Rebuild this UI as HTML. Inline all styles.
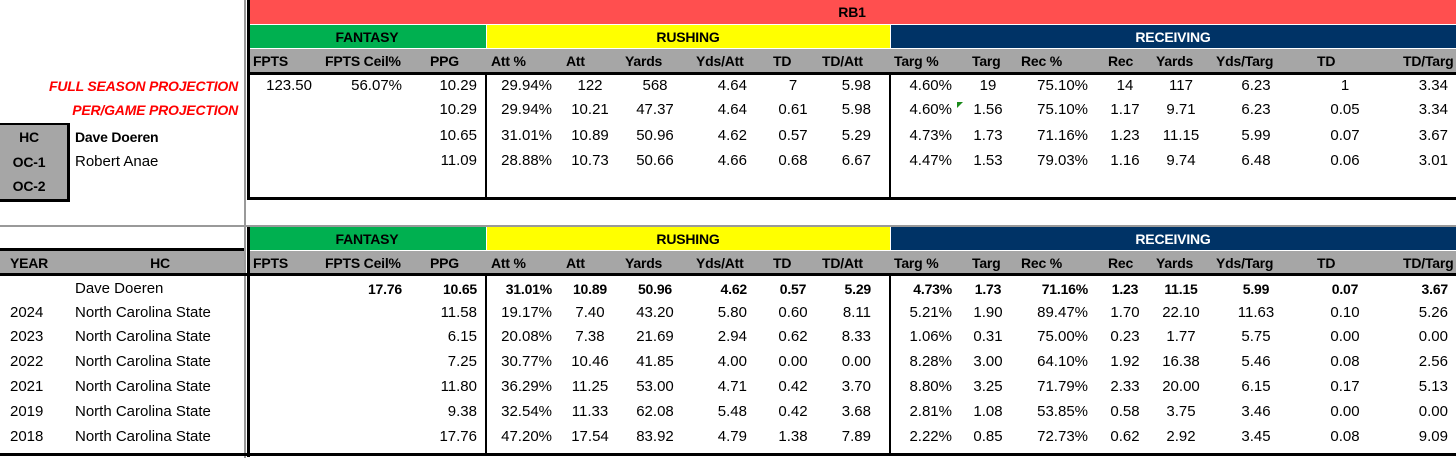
<!DOCTYPE html>
<html><head><meta charset="utf-8">
<style>
body{margin:0;width:1456px;height:458px;overflow:hidden;background:#fff;font-family:"Liberation Sans",sans-serif;font-size:15px;color:#000;position:relative}
.a{position:absolute;white-space:nowrap;line-height:18px}
.box{position:absolute}
.h{font-weight:bold;font-size:14px;letter-spacing:-0.2px}
</style></head><body>
<div id="root"></div>
<script>
const root=document.getElementById('root');
function box(name,x,y,w,h,bg){const d=document.createElement('div');d.className='box';


d.style.cssText=`left:${x}px;top:${y}px;width:${w}px;height:${h}px;background:${bg}`;root.appendChild(d);return d;}
function txt(name,s,x,y,align,cls,color){const d=document.createElement('div');d.className='a '+(cls||'');


d.textContent=s;d.style.top=(y-9)+'px';
if(align==='r'){d.style.right=(1456-x)+'px';}
else if(align==='c'){d.style.left=(x-100)+'px';d.style.width='200px';d.style.textAlign='center';}
else d.style.left=x+'px';
if(color)d.style.color=color;root.appendChild(d);return d;}

const colHeaders=["FPTS","FPTS Ceil%","PPG","Att %","Att","Yards","Yds/Att","TD","TD/Att","Targ %","Targ","Rec %","Rec","Yards","Yds/Targ","TD","TD/Targ"];
const headX=[253,325,430,491,566,625,696,773,822,894,972,1021,1108,1156,1216,1317,1403];
const valAlign=['r','r','r','r','c','c','r','c','r','r','c','r','c','c','c','c','r'];
const valX=[312,402,477,552,590,655,747,793,871,952,988,1088,1125,1181,1256,1345,1448];

const topRows=[
["123.50","56.07%","10.29","29.94%","122","568","4.64","7","5.98","4.60%","19","75.10%","14","117","6.23","1","3.34"],
["","","10.29","29.94%","10.21","47.37","4.64","0.61","5.98","4.60%","1.56","75.10%","1.17","9.71","6.23","0.05","3.34"],
["","","10.65","31.01%","10.89","50.96","4.62","0.57","5.29","4.73%","1.73","71.16%","1.23","11.15","5.99","0.07","3.67"],
["","","11.09","28.88%","10.73","50.66","4.66","0.68","6.67","4.47%","1.53","79.03%","1.16","9.74","6.48","0.06","3.01"]];
const years=["","2024","2023","2022","2021","2019","2018"];
const coaches=["Dave Doeren","North Carolina State","North Carolina State","North Carolina State","North Carolina State","North Carolina State","North Carolina State"];
const histRows=[
["","17.76","10.65","31.01%","10.89","50.96","4.62","0.57","5.29","4.73%","1.73","71.16%","1.23","11.15","5.99","0.07","3.67"],
["","","11.58","19.17%","7.40","43.20","5.80","0.60","8.11","5.21%","1.90","89.47%","1.70","22.10","11.63","0.10","5.26"],
["","","6.15","20.08%","7.38","21.69","2.94","0.62","8.33","1.06%","0.31","75.00%","0.23","1.77","5.75","0.00","0.00"],
["","","7.25","30.77%","10.46","41.85","4.00","0.00","0.00","8.28%","3.00","64.10%","1.92","16.38","5.46","0.08","2.56"],
["","","11.80","36.29%","11.25","53.00","4.71","0.42","3.70","8.80%","3.25","71.79%","2.33","20.00","6.15","0.17","5.13"],
["","","9.38","32.54%","11.33","62.08","5.48","0.42","3.68","2.81%","1.08","53.85%","0.58","3.75","3.46","0.00","0.00"],
["","","17.76","47.20%","17.54","83.92","4.79","1.38","7.89","2.22%","0.85","72.73%","0.62","2.92","3.45","0.08","9.09"]];
const topY=[86,110,136,161];
const histY=[289,313,337,362,387,412,437];

box('rb1-banner',249,0,1207,24,'#ff4f4f');
function groupHeaders(y,suffix){
 box('fantasy-header'+suffix,249,y,237,23,'#00b050');
 box('rushing-header'+suffix,487,y,403,23,'#ffff00');
 box('receiving-header'+suffix,891,y,565,23,'#003366');
 box('col-header-row'+suffix,249,y+24,1207,24,'#a6a6a6');
 txt('fantasy-label'+suffix,'FANTASY',367,y+12,'c','h');
 txt('rushing-label'+suffix,'RUSHING',688,y+12,'c','h');
 txt('receiving-label'+suffix,'RECEIVING',1173,y+12,'c','h','#fff');
 colHeaders.forEach((c,i)=>txt('col-header-'+c.toLowerCase().replace(/[^a-z]/g,'')+suffix,c,headX[i],y+36,'l','h'));
}
groupHeaders(25,'');
groupHeaders(227,'-hist');
txt('rb1-title','RB1',852,12,'c','h');

box('gray-vline',244,0,2,458,'#999');
box('gray-hline',0,225,1456,2,'#999');
box('top-left-border',247,0,3,200,'#000');
box('top-header-bottom',247,72,1209,3,'#000');
box('top-bottom-border',247,197,1209,3,'#000');
box('top-div-rush',485,73,2,126,'#000');
box('top-div-rec',889,73,2,126,'#000');
box('hist-left-border',247,227,3,230,'#000');
box('hist-header-bottom',0,273,1456,3,'#000');
box('hist-header-top',0,248,244,3,'#000');
box('hist-bottom-border',0,453,1456,3,'#000');
box('hist-div-rush',485,275,2,180,'#000');
box('hist-div-rec',889,275,2,180,'#000');
box('year-hc-header',0,251,244,22,'#a6a6a6');
txt('year-header','YEAR',10,263,'l','h');
txt('hc-header','HC',160,263,'c','h');

txt('full-season-label','FULL SEASON PROJECTION',238,86,'r','h','#f00').style.fontStyle='italic';
txt('per-game-label','PER/GAME PROJECTION',238,110,'r','h','#f00').style.fontStyle='italic';
const cb=box('coach-box',0,123,67,74,'#a6a6a6');cb.style.borderRight='3px solid #000';cb.style.borderBottom='3px solid #000';cb.style.borderTop='2px solid #000';
txt('hc-label','HC',29,137,'c','h');
txt('oc1-label','OC-1',29,162,'c','h');
txt('oc2-label','OC-2',29,186,'c','h');
txt('hc-name','Dave Doeren',75,137,'l','h');
txt('oc1-name','Robert Anae',75,162,'l');

topRows.forEach((r,ri)=>r.forEach((v,ci)=>{if(v)txt('top-cell-'+ri+'-'+ci,v,valX[ci],topY[ri],valAlign[ci]);}));
histRows.forEach((r,ri)=>{
 if(years[ri])txt('year-'+years[ri],years[ri],10,histY[ri],'l');
 txt('coach-'+ri,coaches[ri],75,histY[ri],'l');
 r.forEach((v,ci)=>{if(v)txt('hist-cell-'+ri+'-'+ci,v,valX[ci],histY[ri],valAlign[ci],ri===0?'h':'');});
});
const tri=box('comment-marker',957,102,6,6,'transparent');
tri.style.borderTop='6px solid #1a8a1a';tri.style.borderRight='6px solid transparent';tri.style.width='0';tri.style.height='0';
</script>
</body></html>
